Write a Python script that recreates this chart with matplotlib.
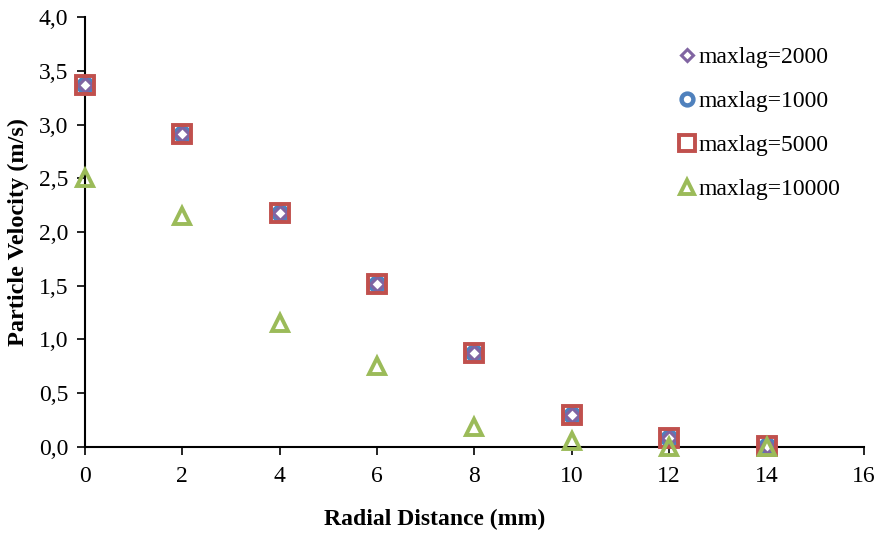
import matplotlib
matplotlib.use("Agg")
import matplotlib.pyplot as plt
from matplotlib.ticker import FuncFormatter

plt.rcParams['font.family'] = ['Liberation Serif', 'DejaVu Serif']

# radial positions (mm)
radial = [0, 2, 4, 6, 8, 10, 12, 14]

# particle velocity (m/s) for each maxlag setting
vel_2000 = [3.37, 2.91, 2.18, 1.52, 0.87, 0.30, 0.08, 0.01]
vel_1000 = [3.37, 2.91, 2.18, 1.52, 0.87, 0.30, 0.08, 0.01]
vel_5000 = [3.37, 2.91, 2.18, 1.52, 0.87, 0.30, 0.08, 0.01]
vel_10000 = [2.50, 2.15, 1.15, 0.75, 0.19, 0.06, 0.00, 0.00]

x_ticks = [0, 2, 4, 6, 8, 10, 12, 14, 16]
y_ticks = [0.0, 0.5, 1.0, 1.5, 2.0, 2.5, 3.0, 3.5, 4.0]

fig = plt.figure(figsize=(8.78, 5.34), dpi=100)
ax = fig.add_axes([0.0968, 0.163, 0.8872, 0.805])

ax.plot(radial, vel_1000, 'o', ls='none', ms=10, mfc='none', mec='#4F81BD', mew=3.2,
        label='maxlag=1000', zorder=3, clip_on=False)
ax.plot(radial, vel_2000, 'D', ls='none', ms=7, mfc='white', mec='#8064A2', mew=2.2,
        label='maxlag=2000', zorder=4, clip_on=False)
ax.plot(radial, vel_5000, 's', ls='none', ms=13, mfc='none', mec='#C0504D', mew=2.8,
        label='maxlag=5000', zorder=5, clip_on=False)
ax.plot(radial, vel_10000, '^', ls='none', ms=12, mfc='none', mec='#9BBB59', mew=2.8,
        label='maxlag=10000', zorder=6, clip_on=False)

ax.set_xlim(0, 16)
ax.set_ylim(0, 4)
ax.set_xticks(x_ticks)
ax.set_yticks(y_ticks)
ax.yaxis.set_major_formatter(FuncFormatter(lambda v, p: ('%.1f' % v).replace('.', ',')))
ax.tick_params(direction='out', length=6, width=1.2, labelsize=17, colors='black')
ax.tick_params(axis='x', pad=8)
ax.tick_params(axis='y', pad=6)
ax.spines['top'].set_visible(False)
ax.spines['right'].set_visible(False)
for s in ('left', 'bottom'):
    ax.spines[s].set_linewidth(1.5)

ax.set_xlabel('Radial Distance (mm)', fontsize=17, fontweight='bold')
ax.xaxis.set_label_coords(0.449, -0.145)
ax.set_ylabel('Particle Velocity (m/s)', fontsize=17.5, fontweight='bold')
ax.yaxis.set_label_coords(-0.072, 0.5)

handles, labels = ax.get_legend_handles_labels()
order = [1, 0, 2, 3]
leg = ax.legend([handles[i] for i in order], [labels[i] for i in order],
                loc='upper right', bbox_to_anchor=(0.997, 0.98), frameon=False,
                fontsize=17, labelspacing=0.95, handlelength=0.7, handletextpad=0.15,
                markerscale=0.85)

fig.savefig('out.png', dpi=100)
